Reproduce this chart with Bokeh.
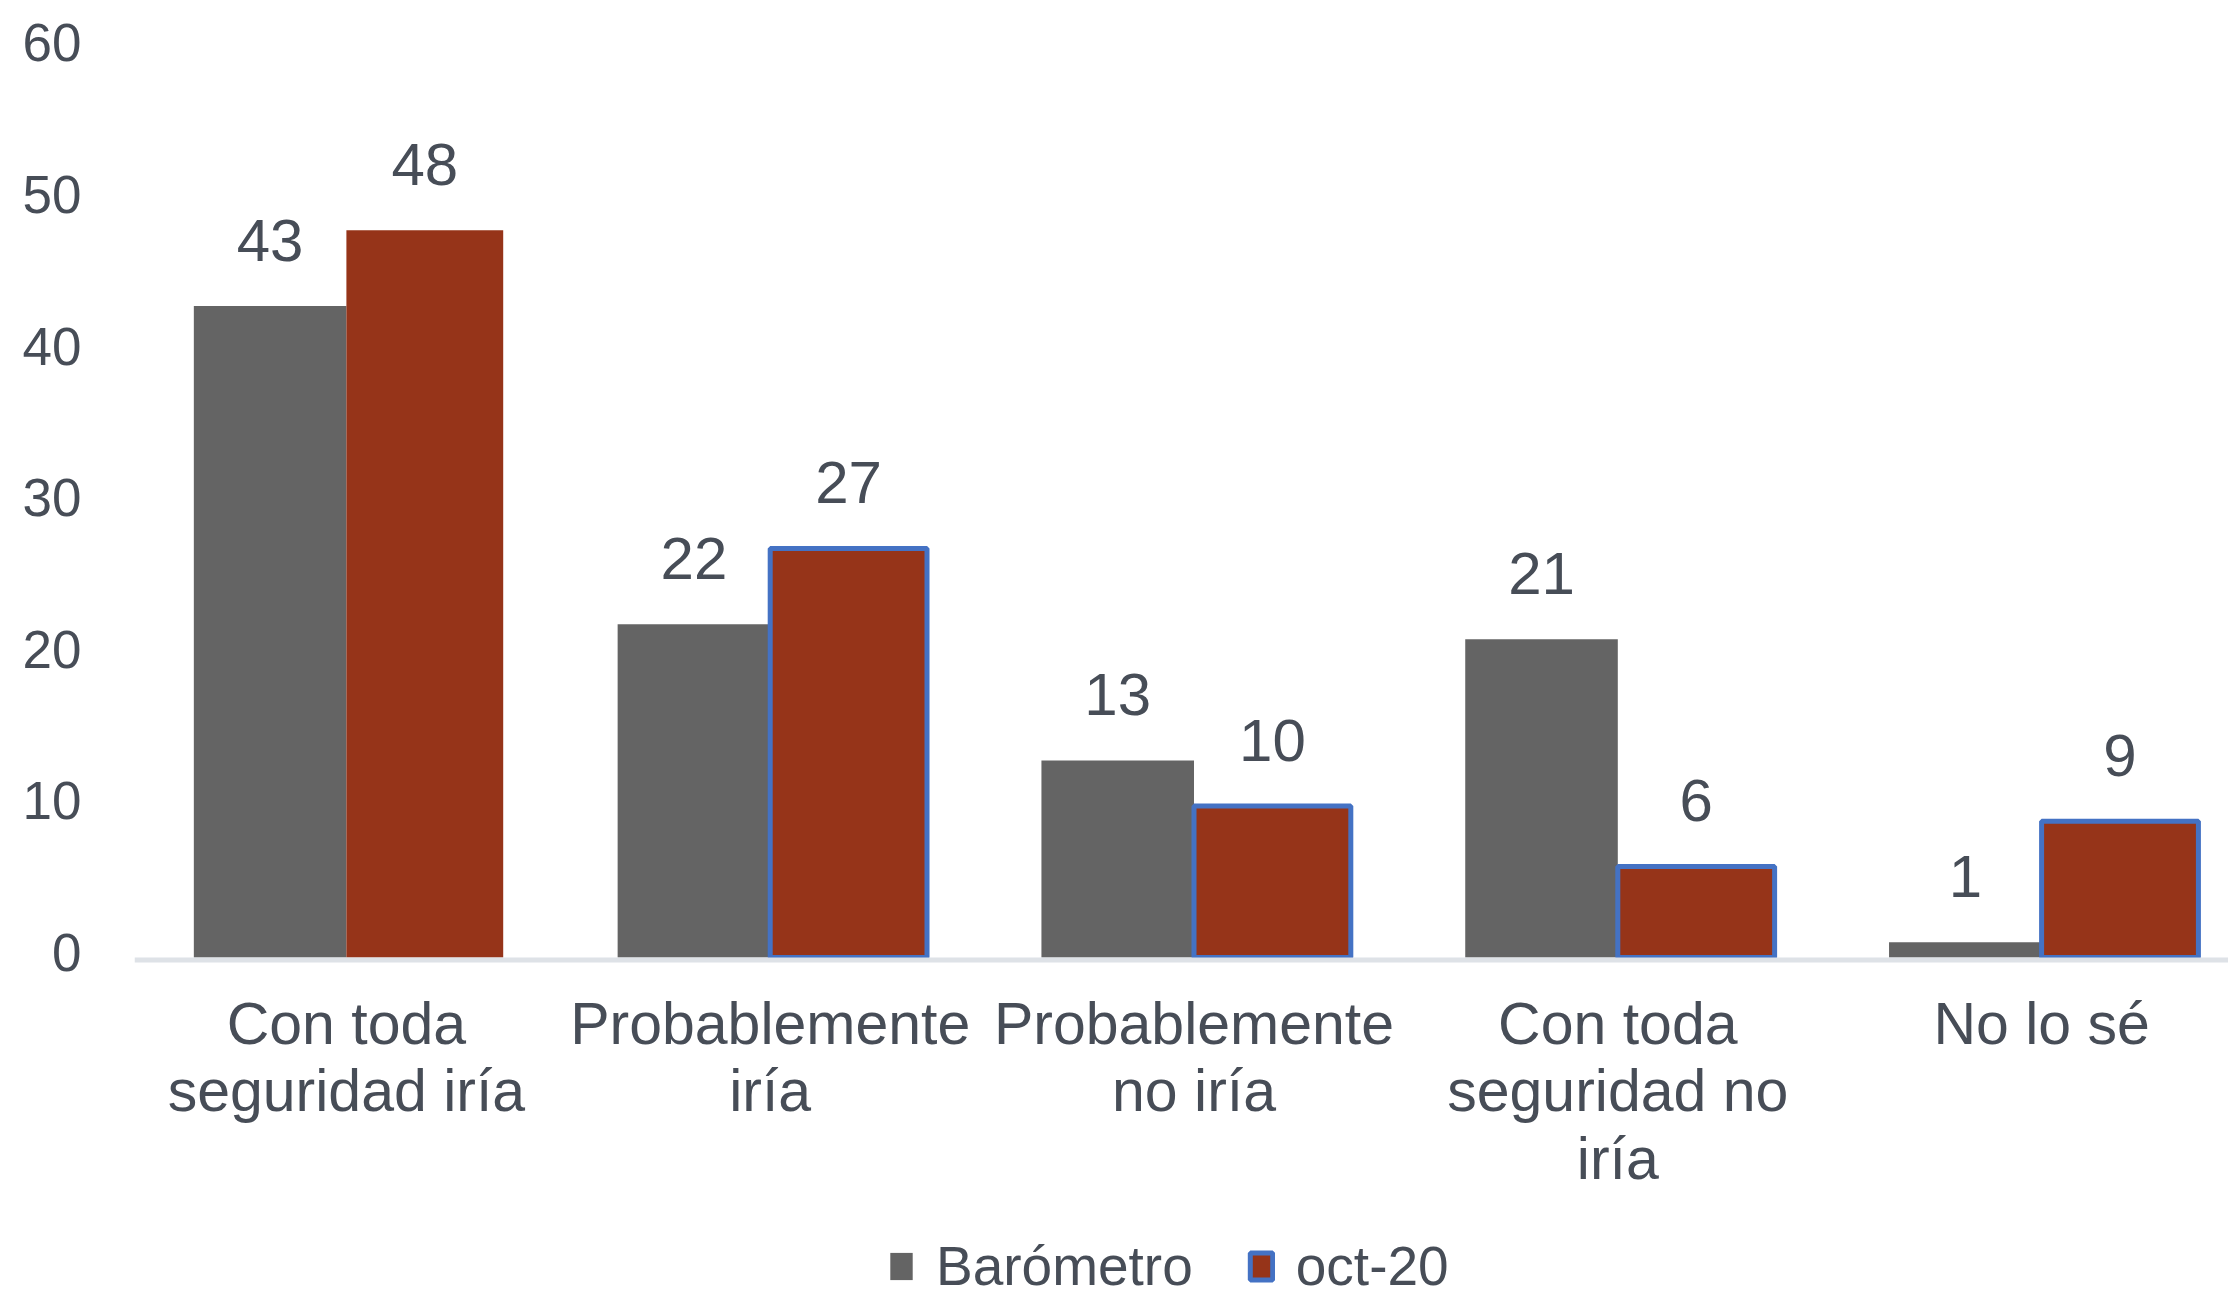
from bokeh.plotting import figure
from bokeh.models import (Range1d, FixedTicker, Legend, LegendItem, ColumnDataSource, Span,
                          LinearAxis)
from bokeh.core.properties import value
from bokeh.embed import file_html
from bokeh.resources import INLINE

# ---- data ----
categories = ["Con toda\nseguridad iría", "Probablemente\niría", "Probablemente\nno iría",
              "Con toda\nseguridad no\niría", "No lo sé"]
barometro = [43, 22, 13, 21, 1]
oct20 = [48, 27, 10, 6, 9]
series_names = ["Barómetro", "oct-20"]
y_ticks = [0, 10, 20, 30, 40, 50, 60]

# ---- styling ----
FONT = "Liberation Sans"
TEXT = "#474d57"
GRAY = "#646464"
RED = "#963419"
BLUE = "#4472c4"

positions = list(range(len(categories)))
Y0, Y1 = -22.64, 60.396
LABEL_SHIFT = 0.363  # tick labels sit a few pixels above their value position

# frame covers the plot plus the label / legend area below the baseline
p = figure(frame_width=2094, frame_height=1258, output_backend="svg", toolbar_location=None,
           x_range=Range1d(-0.5, 4.441), y_range=Range1d(Y0, Y1),
           min_border_left=134, min_border_right=0, min_border_top=42, min_border_bottom=0)
p.outline_line_color = None
p.background_fill_color = "white"
p.border_fill_color = "white"
p.xgrid.visible = False
p.ygrid.visible = False
p.xaxis.visible = False
p.yaxis.visible = False

# baseline (category axis line)
p.add_layout(Span(location=-0.165, dimension="width", line_color="#dee2e7", line_width=5))

src_b = ColumnDataSource(dict(x=[i - 0.18 for i in positions], top=barometro,
                              label=[str(v) for v in barometro]))
src_o = ColumnDataSource(dict(x=[i + 0.185 for i in positions], top=oct20,
                              label=[str(v) for v in oct20],
                              la=[0.0] + [1.0] * (len(oct20) - 1)))

rb = p.vbar(x="x", top="top", bottom=0, width=0.36, source=src_b,
            fill_color=GRAY, line_color=None)
ro = p.vbar(x="x", top="top", bottom=0, width=0.37, source=src_o,
            fill_color=RED, line_color=BLUE, line_width=5, line_alpha="la")

for src in (src_b, src_o):
    p.text(x="x", y="top", text="label", source=src, text_align="center",
           text_baseline="middle", y_offset=-66,
           text_font=value(FONT), text_font_size="60px", text_color=TEXT)

# category labels
src_c = ColumnDataSource(dict(x=positions, y=[0] * len(positions), label=categories))
p.text(x="x", y="y", text="label", source=src_c, text_align="center",
       text_baseline="top", y_offset=33, text_line_height=1.03,
       text_font=value(FONT), text_font_size="59px", text_color=TEXT)

# y axis (value labels only)
p.extra_y_ranges = {"labels": Range1d(Y0 - LABEL_SHIFT, Y1 - LABEL_SHIFT)}
ya = LinearAxis(y_range_name="labels")
ya.ticker = FixedTicker(ticks=y_ticks)
ya.axis_line_color = None
ya.major_tick_line_color = None
ya.minor_tick_line_color = None
ya.major_tick_out = 0
ya.major_tick_in = 0
ya.major_label_standoff = 53
ya.major_label_text_font = FONT
ya.major_label_text_font_size = "53px"
ya.major_label_text_color = TEXT
p.add_layout(ya, "left")

legend = Legend(items=[LegendItem(label=series_names[0], renderers=[rb], index=0),
                       LegendItem(label=series_names[1], renderers=[ro], index=1)],
                orientation="horizontal", location=(753, 2),
                label_text_font=FONT, label_text_font_size="55px", label_text_color=TEXT,
                glyph_width=28, glyph_height=34, label_standoff=21, spacing=54,
                padding=0, margin=0, border_line_color=None, background_fill_alpha=0,
                label_height=40)
p.add_layout(legend)

open("out.html", "w").write(file_html(p, INLINE))
